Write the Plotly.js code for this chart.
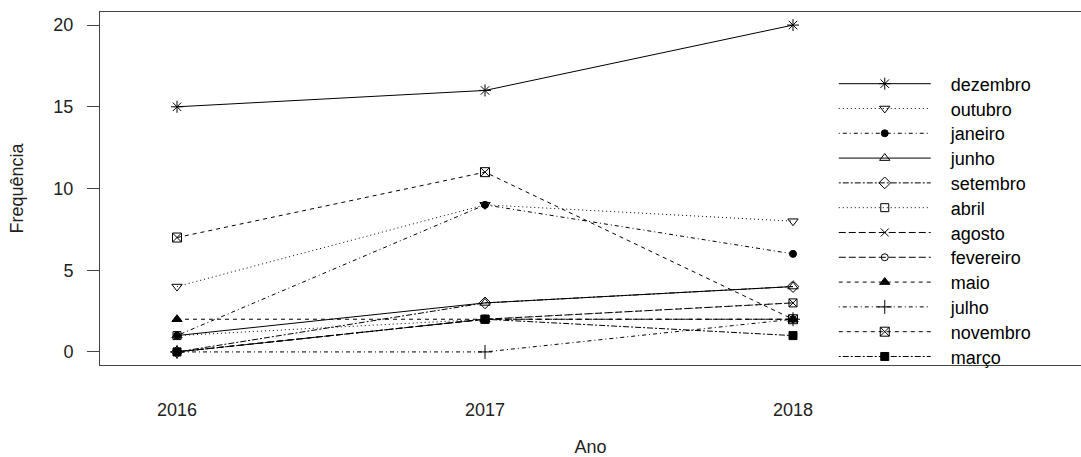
<!DOCTYPE html>
<html>
<head>
<meta charset="utf-8">
<script src="https://cdn.plot.ly/plotly-3.0.1.min.js"></script>
<style>html,body{margin:0;padding:0;background:#fff;}#chart{width:1081px;height:457px;}</style>
</head>
<body>
<div id="chart"></div>
<script>
// Data
var years = [2016, 2017, 2018];
var yearLabels = ['2016', '2017', '2018'];
var months = ['dezembro','outubro','janeiro','junho','setembro','abril','agosto','fevereiro','maio','julho','novembro','março'];
var dezembro  = [15, 16, 20];
var outubro   = [4, 9, 8];
var janeiro   = [1, 9, 6];
var junho     = [1, 3, 4];
var setembro  = [0, 3, 4];
var abril     = [1, 2, 3];
var agosto    = [0, 2, 3];
var fevereiro = [0, 2, 2];
var maio      = [2, 2, 2];
var julho     = [0, 0, 2];
var novembro  = [7, 11, 2];
var marco     = [0, 2, 1];
var seriesValues = [dezembro, outubro, janeiro, junho, setembro, abril, agosto, fevereiro, maio, julho, novembro, marco];
var yTicks = [0, 5, 10, 15, 20];

// Styles (R-like line types and plotting symbols)
var dashes = ['solid','1px,3px','1px,3px,4px,3px','solid','2px,2px,6px,2px','1px,3px','7px,3px','7px,3px','4px,4px','1px,3px,4px,3px','4px,4px','2px,2px,6px,2px'];
var symbols = ['asterisk-open','triangle-down-open','circle','triangle-up-open','diamond-open','square-open','x-thin-open','circle-open','triangle-up','cross-thin-open','square-x-open','square'];
var sizes = [10,9,7,9,9,8,8,7,9,10,9,8];

var traces = months.map(function(m, i){
  return {
    type: 'scatter', mode: 'lines+markers', name: m,
    x: years, y: seriesValues[i],
    line: {color: '#000', width: 1, dash: dashes[i]},
    marker: {symbol: symbols[i], size: sizes[i], color: '#000', line: {color: '#000', width: 1}}
  };
});

var txtFont = {family: 'Liberation Sans, Arial, sans-serif', size: 18, color: '#222'};

var layout = {
  width: 1081, height: 457,
  margin: {l: 100, r: 0, t: 12, b: 92},
  paper_bgcolor: '#fff', plot_bgcolor: '#fff',
  showlegend: true,
  legend: {
    x: 0.750, y: 0.8485, xanchor: 'left', yanchor: 'top',
    bgcolor: 'rgba(0,0,0,0)', borderwidth: 0,
    itemwidth: 105, font: {family: 'Liberation Sans, Arial, sans-serif', size: 18, color: '#000'},
    traceorder: 'normal'
  },
  xaxis: {
    range: [2015.75, 2018.935],
    tickmode: 'array', tickvals: years, ticktext: yearLabels,
    ticks: '', showgrid: false, zeroline: false,
    showline: true, mirror: true, linecolor: '#444', linewidth: 1,
    tickfont: txtFont, ticklabelstandoff: 28,
    title: {text: 'Ano', font: txtFont, standoff: 28}
  },
  yaxis: {
    range: [-0.8, 20.8],
    tickmode: 'array', tickvals: yTicks, ticktext: yTicks.map(String),
    ticks: 'outside', ticklen: 12, tickcolor: '#444', tickwidth: 1,
    showgrid: false, zeroline: false,
    showline: true, mirror: false, linecolor: '#444', linewidth: 1,
    tickfont: txtFont, ticklabelstandoff: 10,
    title: {text: 'Frequência', font: txtFont, standoff: 25}
  }
};

var gd = document.getElementById('chart');
Plotly.newPlot(gd, traces, layout, {staticPlot: true, displayModeBar: false}).then(function(){
  var items = gd.querySelectorAll('.legend .traces');
  var y0 = null;
  items.forEach(function(g, i){
    var tr = g.getAttribute('transform') || '';
    var mm = tr.match(/translate\(\s*([-\d.]+)[ ,]+([-\d.]+)\s*\)/);
    if (mm) {
      var xx = parseFloat(mm[1]), yy = parseFloat(mm[2]);
      if (y0 === null) y0 = yy;
      g.setAttribute('transform', 'translate(' + xx + ',' + (y0 + i * 24.8) + ')');
    }
    g.querySelectorAll('.legendlines path').forEach(function(p){ p.setAttribute('d', 'M3,0h92'); });
    g.querySelectorAll('.legendpoints path').forEach(function(p){ p.setAttribute('transform', 'translate(49,0)'); });
  });
});
</script>
</body>
</html>
